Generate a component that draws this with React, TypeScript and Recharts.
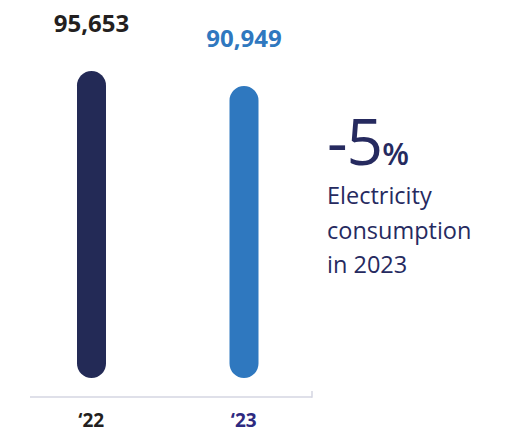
import { BarChart, Bar, XAxis, YAxis, Cell, LabelList, Customized } from "recharts";

const years = ["‘22", "‘23"];
const consumption = [95653, 90949];

const barColors = ["#232a56", "#2f78bf"];
const valueColors = ["#231f20", "#2f78bf"];
const yearColors = ["#231f20", "#2e2a80"];

const data = years.map((year, i) => ({ year, value: consumption[i] }));

const FONT = "'Open Sans', sans-serif";

function YearTick(props: any) {
  const { x, y, payload, index } = props;
  return (
    <text
      x={x}
      y={y}
      dy={41}
      textAnchor="middle"
      fontFamily={FONT}
      fontSize={19}
      fontWeight={700}
      fill={yearColors[index]}
    >
      {payload.value}
    </text>
  );
}

function ValueLabel(props: any) {
  const { x, y, width, value, index } = props;
  return (
    <text
      x={x + width / 2}
      y={y}
      dy={-39}
      textAnchor="middle"
      fontFamily={FONT}
      fontSize={24}
      fontWeight={700}
      fill={valueColors[index]}
    >
      {Number(value).toLocaleString("en-US")}
    </text>
  );
}

// baseline rule with a small end tick, sits under the bars
function BaseRule() {
  return (
    <g>
      <line x1={30} y1={397} x2={312} y2={397} stroke="#d4d6e2" strokeWidth={1.5} />
      <line x1={312} y1={391} x2={312} y2={397.75} stroke="#d4d6e2" strokeWidth={1.5} />
    </g>
  );
}

export default function App() {
  return (
    <div style={{ position: "absolute", left: 0, top: 0, width: 516, height: 432, background: "#fff" }}>
      <BarChart
        width={516}
        height={432}
        data={data}
        margin={{ top: 57, right: 196, bottom: 0, left: 15 }}
      >
        <XAxis
          dataKey="year"
          axisLine={false}
          tickLine={false}
          height={54}
          tick={<YearTick />}
          interval={0}
        />
        <YAxis hide domain={[0, 100000]} />
        <Customized component={BaseRule} />
        <Bar
          dataKey="value"
          barSize={29}
          radius={[14.5, 14.5, 14.5, 14.5]}
          isAnimationActive={false}
        >
          {data.map((d, i) => (
            <Cell key={d.year} fill={barColors[i]} />
          ))}
          <LabelList dataKey="value" content={<ValueLabel />} />
        </Bar>
      </BarChart>
      <div
        style={{
          position: "absolute",
          left: 327,
          top: 108,
          fontFamily: FONT,
          color: "#262a5f",
        }}
      >
        <div style={{ lineHeight: "66px", height: 70, whiteSpace: "nowrap" }}>
          <span style={{ fontSize: 64, fontWeight: 400, letterSpacing: -1 }}>-5</span>
          <span style={{ fontSize: 31, fontWeight: 600 }}>%</span>
        </div>
        <div style={{ fontSize: 23.5, lineHeight: "34.5px" }}>
          Electricity
          <br />
          consumption
          <br />
          in 2023
        </div>
      </div>
    </div>
  );
}
